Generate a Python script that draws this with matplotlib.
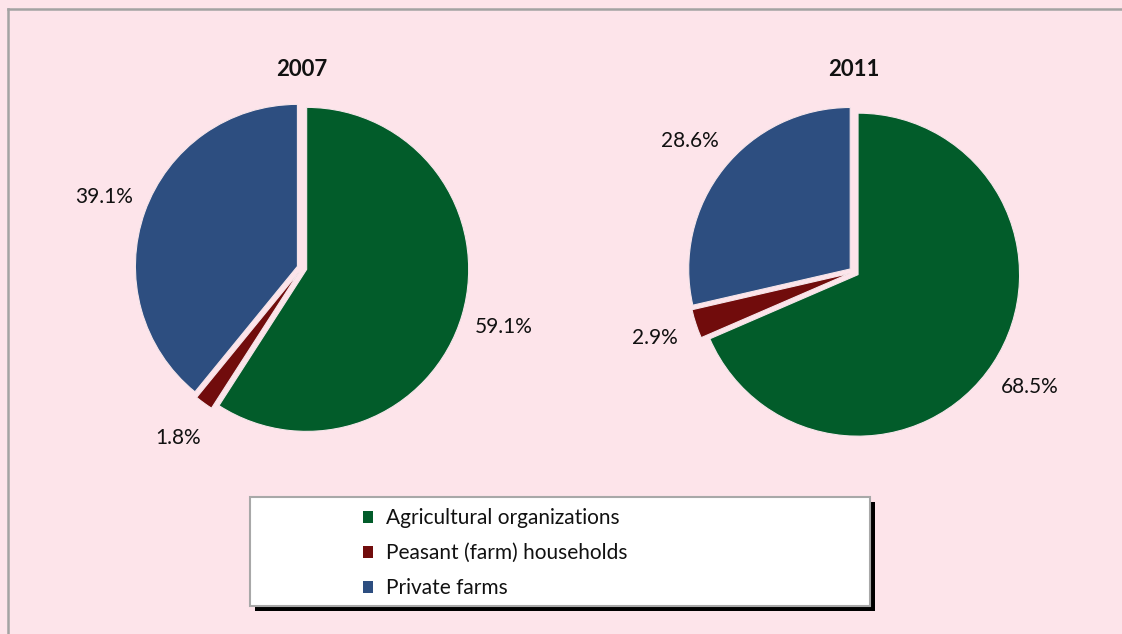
import matplotlib
matplotlib.use("Agg")
import matplotlib.pyplot as plt
from matplotlib.patches import Patch, Rectangle
from matplotlib.lines import Line2D

categories = ["Agricultural organizations", "Peasant (farm) households", "Private farms"]
years = ["2007", "2011"]
values_2007 = [59.1, 1.8, 39.1]
values_2011 = [68.5, 2.9, 28.6]
colors = ["#025C2A", "#710C0C", "#2D4E80"]

BG = "#FDE4EA"
W, H = 1122, 634
plt.rcParams['font.family'] = ['Lato', 'DejaVu Sans']

fig = plt.figure(figsize=(W / 100, H / 100), dpi=100, facecolor=BG)

# border lines (top and left)
fig.add_artist(Line2D([8 / W, 1], [1 - 9 / H, 1 - 9 / H], color="#A3A3A3", lw=1.8, transform=fig.transFigure))
fig.add_artist(Line2D([8 / W, 8 / W], [0, 1 - 9 / H], color="#A3A3A3", lw=1.8, transform=fig.transFigure))

LIM = 1.35
pies = [(years[0], values_2007, 302, 268, 162), (years[1], values_2011, 854, 272, 161.5)]
for title, vals, cx, cy, r in pies:
    w = 2 * LIM * r
    ax = fig.add_axes([(cx - w / 2) / W, (H - cy - w / 2) / H, w / W, w / H])
    ax.set_facecolor("none")
    ax.pie(vals, colors=colors, startangle=90, counterclock=False,
           explode=[0.03] * len(vals), autopct="%1.1f%%", pctdistance=1.27,
           wedgeprops=dict(edgecolor="#F6E6EA", linewidth=0.8),
           textprops=dict(fontsize=15, color="#111111"))
    ax.set_xlim(-LIM, LIM)
    ax.set_ylim(-LIM, LIM)
    ax.set_aspect("equal")
    ax.axis("off")
    ax.text(0, (cy - 70) / r, title, ha="center", va="center", fontsize=16, fontweight="bold", color="#111111")

# legend box with shadow
lx0, ly0, lx1, ly1 = 250, 497, 870, 606
sh = 5
fig.add_artist(Rectangle(((lx0 + sh) / W, (H - ly1 - sh) / H), (lx1 - lx0) / W, (ly1 - ly0) / H,
                         transform=fig.transFigure, facecolor="black", edgecolor="black", lw=0))
fig.add_artist(Rectangle((lx0 / W, (H - ly1) / H), (lx1 - lx0) / W, (ly1 - ly0) / H,
                         transform=fig.transFigure, facecolor="white", edgecolor="#A8A8A8", lw=1.5))

handles = [Patch(facecolor=c, edgecolor="none") for c in colors]
leg = fig.legend(handles, categories, loc="center left", bbox_to_anchor=(363 / W, (H - 553) / H),
                 frameon=False, fontsize=15, handlelength=0.5, handleheight=0.5, handletextpad=0.58,
                 labelspacing=0.72, borderpad=0, borderaxespad=0)
for t in leg.get_texts():
    t.set_color("#111111")

fig.savefig("out.png", dpi=100, facecolor=BG)
